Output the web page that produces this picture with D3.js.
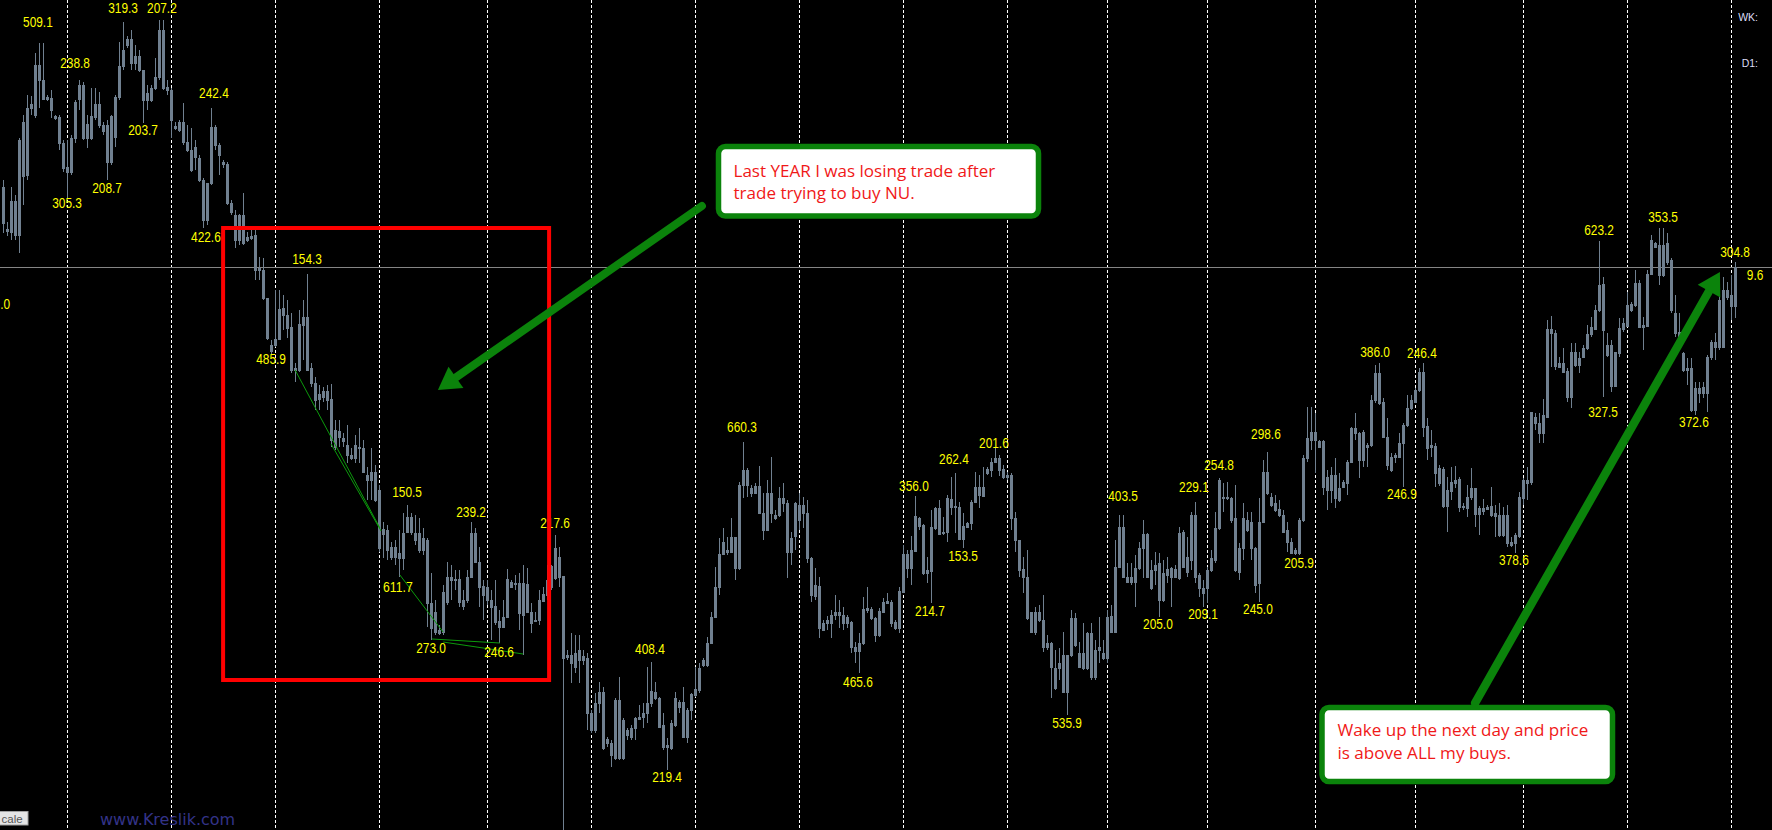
<!DOCTYPE html>
<html><head><meta charset="utf-8">
<script src="https://cdn.jsdelivr.net/npm/d3@7"></script>
<style>html,body{margin:0;padding:0;background:#000;overflow:hidden}svg{display:block}</style>
</head><body>
<svg id="chart" width="1772" height="830"></svg>
<script>
// ---- DATA (price in points) ----
const bodyTops = [
813,771,799,799,860,878,892,896,935,935,
920,903,902,884,883,857,833,862,898,915,
915,876,884,896,896,875,875,884,903,934,
950,961,961,944,944,930,907,912,923,970,
970,913,910,874,878,878,858,850,853,842,
820,817,873,873,855,838,836,797,785,785,
785,763,764,765,732,730,702,655,661,691,
692,685,673,632,676,683,683,632,617,606,
609,609,601,570,569,562,555,545,555,553,
552,525,528,528,510,471,470,453,453,447,
467,483,483,467,467,462,460,397,388,370,
408,423,423,421,421,400,423,467,467,438,
414,413,400,394,379,383,421,418,417,417,
417,416,388,380,400,406,420,434,452,443,
424,345,345,347,350,344,342,287,297,308,
308,261,257,300,300,280,270,272,282,283,
287,297,309,308,302,275,255,277,302,298,
298,290,306,311,332,340,357,383,413,446,
458,450,463,463,515,530,530,512,514,514,
487,507,507,485,502,502,497,462,497,495,
495,487,442,415,414,377,380,385,388,388,
385,383,378,353,357,391,392,391,382,389,
398,399,398,378,409,446,446,450,484,482,
475,430,473,492,492,468,502,501,494,493,
474,477,498,513,513,513,531,538,542,542,
531,525,525,482,460,431,423,388,388,388,
380,357,357,332,337,345,345,382,382,347,
347,367,367,350,353,347,383,384,433,473,
473,423,423,432,452,466,466,430,435,437,
427,431,432,431,467,468,443,485,485,425,
412,430,442,472,520,503,503,502,482,452,
482,480,478,452,478,528,528,503,497,491,
485,470,458,450,480,542,562,568,568,559,
559,523,525,525,512,518,538,572,572,567,
568,555,600,627,627,598,563,543,545,557,
575,592,600,610,628,628,574,555,554,532,
531,510,518,520,521,494,503,512,512,492,
492,493,494,487,485,485,485,458,465,503,
520,520,588,583,577,585,671,671,667,637,
637,629,648,648,642,652,666,673,690,715,
716,655,655,648,672,677,695,696,717,717,
675,726,760,757,755,755,757,740,687,668,
647,632,632,612,612,613,643,658,658,700,
710,710,705,733];
const bodyBottoms = [
777,769,768,765,765,824,825,892,885,920,
901,901,890,882,857,832,828,828,862,901,
862,862,862,883,875,869,838,838,863,903,
934,955,937,937,930,900,900,900,912,923,
912,910,880,872,870,858,850,830,843,820,
780,780,817,855,845,836,797,788,760,760,
757,760,762,730,730,702,662,649,655,661,
685,672,630,630,630,675,630,617,600,601,
603,600,560,553,563,559,545,542,542,552,
528,520,520,500,452,466,450,443,443,442,
442,468,468,460,450,450,397,372,368,367,
368,398,420,420,398,394,400,423,438,413,
405,400,393,378,373,373,383,413,416,387,
385,388,377,379,380,399,405,413,422,423,
342,343,337,333,340,340,287,270,270,297,
252,257,245,242,242,242,265,263,272,281,
283,287,297,302,273,253,253,252,275,293,
263,263,290,305,310,335,335,357,383,413,
446,448,448,432,432,515,515,507,507,487,
470,470,487,482,485,497,448,448,464,480,
487,442,405,404,372,370,377,377,385,385,
377,377,353,349,349,357,390,382,365,365,
388,397,377,372,372,408,432,432,449,474,
427,427,429,472,466,467,468,493,493,461,
461,473,477,498,505,504,527,530,538,530,
523,523,482,460,430,423,382,368,368,380,
353,353,333,312,332,308,308,345,355,333,
332,332,323,323,350,342,342,368,368,433,
423,418,418,418,432,452,423,412,430,400,
400,425,423,423,422,433,428,440,423,412,
407,412,430,440,472,502,502,480,430,428,
452,470,452,415,417,478,507,495,490,485,
468,458,447,447,447,480,542,560,560,553,
513,510,510,502,500,513,517,538,567,540,
540,553,555,600,597,563,535,530,543,543,
557,575,592,598,610,573,552,553,527,517,
494,494,509,517,493,493,492,503,486,486,
489,491,485,484,465,465,457,455,457,464,
502,517,518,577,567,567,583,667,634,633,
628,603,603,635,635,643,652,666,671,690,
670,645,614,614,647,671,674,690,695,673,
673,674,726,753,725,725,738,690,667,660,
630,630,590,590,607,607,607,643,653,653,
653,703,694,694];
const highs = [
820,778,813,805,862,885,905,904,947,957,
957,905,910,885,885,860,860,865,900,920,
918,885,912,912,908,878,880,885,905,958,
978,964,970,955,950,930,915,915,942,980,
980,920,912,878,880,897,875,872,860,845,
822,817,892,875,857,840,838,800,790,786,
807,768,770,770,743,742,702,660,710,710,
705,700,687,637,690,700,726,637,623,615,
613,615,616,580,580,567,575,552,565,572,
560,533,552,535,515,478,475,458,460,470,
487,495,487,485,482,472,462,427,400,375,
415,438,435,430,430,410,430,478,472,453,
420,420,410,420,390,400,431,420,425,427,
435,432,397,388,410,413,435,435,465,453,
424,350,367,365,365,350,347,290,307,318,
313,263,260,302,323,282,272,275,283,295,
297,333,338,318,303,287,262,280,308,300,
313,292,307,333,337,342,363,388,433,462,
472,463,482,463,518,558,532,515,517,534,
507,520,543,490,513,517,500,468,498,507,
503,500,443,432,423,380,384,390,405,400,
393,385,379,358,367,403,413,393,383,392,
402,407,400,380,413,455,450,464,504,483,
476,443,490,493,500,483,505,523,527,498,
487,478,500,528,525,533,533,542,552,545,
535,528,527,488,460,443,450,388,393,395,
405,365,358,350,352,368,345,390,387,358,
377,368,377,360,383,360,390,395,460,485,
485,437,437,445,458,480,467,440,448,447,
440,443,433,435,473,470,463,488,498,427,
420,433,450,488,522,517,518,503,515,457,
497,488,488,453,502,540,548,507,505,500,
490,478,462,452,482,545,593,593,587,560,
560,530,533,542,527,520,540,573,587,568,
570,557,605,635,637,602,582,547,547,567,
577,605,605,612,632,637,582,570,557,535,
533,523,533,534,523,497,515,532,512,494,
501,495,513,495,497,493,495,463,467,508,
522,533,588,587,587,601,680,684,670,643,
652,632,657,657,648,655,675,683,695,759,
723,667,660,648,682,682,708,698,730,720,
683,730,765,758,772,772,767,742,705,687,
648,642,642,618,618,618,645,660,667,710,
723,718,725,738];
const lows = [
767,764,760,760,747,795,820,885,882,892,
900,899,882,880,850,828,802,825,857,890,
860,852,860,880,872,865,820,835,853,900,
930,952,930,930,928,877,890,898,910,920,
910,905,862,870,868,855,848,828,830,818,
772,775,815,850,825,832,795,785,752,755,
755,758,760,720,720,700,660,645,653,660,
670,662,627,618,628,640,630,613,590,590,
598,590,553,550,553,553,537,540,537,537,
527,500,500,498,448,442,440,440,435,423,
430,467,465,455,447,445,373,360,365,365,
365,395,400,410,393,390,397,422,437,393,
380,395,360,375,357,372,382,412,410,370,
345,387,367,378,375,398,400,410,420,413,
170,340,317,327,317,335,270,267,267,287,
250,253,233,240,240,240,260,260,260,280,
272,277,293,300,272,250,230,250,273,287,
262,257,280,303,307,333,333,357,382,405,
445,445,447,420,430,502,503,503,506,487,
460,470,477,480,483,488,422,435,450,470,
472,437,398,400,362,369,370,362,380,372,
370,372,347,337,327,355,387,380,358,363,
387,396,373,370,367,407,422,415,448,470,
425,417,397,470,465,465,458,485,467,460,
452,472,470,497,492,503,525,523,537,524,
521,520,470,448,423,407,380,367,365,378,
348,350,302,310,320,307,285,343,353,332,
330,330,320,320,337,340,337,367,367,432,
423,417,415,393,430,422,422,410,415,383,
398,417,393,422,420,432,423,430,417,403,
393,397,428,437,470,488,500,477,428,420,
440,468,440,407,398,477,505,493,488,483,
467,448,446,445,445,478,538,550,527,552,
505,490,497,492,498,512,505,537,560,522,
533,533,553,597,595,562,530,528,537,542,
513,573,590,597,608,563,540,543,513,514,
492,468,500,512,488,490,483,500,473,465,
485,490,483,463,463,463,453,453,447,462,
495,500,515,570,557,557,582,633,630,632,
627,598,592,633,627,642,650,663,670,688,
603,643,608,613,643,668,673,688,693,672,
650,673,725,752,715,723,735,687,663,658,
628,615,588,585,597,602,588,640,640,650,
652,700,680,682];

// period separators (bar index)
const separatorBars = [16,42,68,94,121,147,173,199,225,251,276,301,328,353,380,406,432];

// swing labels: text, bar index, price level
const swingLabels = [
["509.1",8.6,978],["319.3",29.9,992],["207.2",39.6,992],["238.8",17.9,937],
["305.3",15.9,797],["208.7",25.9,812],["203.7",34.9,870],["242.4",52.6,907],
["422.6",50.6,763],["485.9",66.9,641],["154.3",75.9,741],["150.5",100.9,508],
["239.2",116.9,488],["217.6",137.9,477],["611.7",98.6,413],["273.0",106.9,352],
["246.6",123.9,348],["408.4",161.6,351],["219.4",165.9,223],["660.3",184.6,573],
["465.6",213.6,318],["356.0",227.6,514],["262.4",237.6,541],["201.6",247.6,557],
["214.7",231.6,389],["153.5",239.9,444],["535.9",265.9,277],["403.5",279.9,504],
["205.0",288.6,376],["229.1",297.6,513],["254.8",303.9,535],["209.1",299.9,386],
["245.0",313.6,391],["298.6",315.6,566],["205.9",323.9,437],["386.0",342.9,648],
["246.4",354.6,647],["246.9",349.6,506],["378.6",377.6,440],["623.2",398.9,770],
["327.5",399.9,588],["353.5",414.9,783],["372.6",422.6,578],["304.8",432.9,748],
["9.6",437.9,725],[".0",0.4,696]];

// thin green trend segments: [bar1, price1, bar2, price2]
const trendLines = [[72.9,630,94.1,472],[81.9,556,94.4,469],[99.1,425,109.9,368],[107.1,361,124.1,357],[109.9,358,129.9,346]];
// red highlight box: [barFrom, priceTop, barTo, priceBottom]
const highlightBox = [54.9,772,136.4,320];
// arrows: [tailBar, tailPrice, tipBar, tipPrice]
const arrows = [[174.6,794,108.6,610],[367.9,297,429.1,728]];
const calloutTexts = [["Last YEAR I was losing trade after","trade trying to buy NU."],["Wake up the next day and price","is above ALL my buys."]];

// ---- LAYOUT ----
const W = 1772, H = 830;
const svg = d3.select("#chart");
svg.append("rect").attr("width",W).attr("height",H).attr("fill","#000");
const x = d3.scaleLinear().domain([0,433]).range([3.5,1735.5]);
const y = d3.scaleLinear().domain([170,1000]).range([830,0]);
const candleColor = "#708090";

// separators
svg.append("g").selectAll("line").data(separatorBars).join("line")
  .attr("x1",d=>x(d)).attr("x2",d=>x(d)).attr("y1",0).attr("y2",H)
  .attr("stroke","#fff").attr("stroke-width",1).attr("stroke-dasharray","3,2");

// current price line (last bar top)
const lastPrice = bodyTops[bodyTops.length-1];
svg.append("line").attr("x1",0).attr("x2",W)
  .attr("y1",Math.round(y(lastPrice))+0.5).attr("y2",Math.round(y(lastPrice))+0.5)
  .attr("stroke","#858585").attr("stroke-width",1);

// candles
const idx = d3.range(bodyTops.length);
const cg = svg.append("g");
cg.selectAll("rect.w").data(idx).join("rect").attr("class","w")
  .attr("x",i=>x(i)-0.5).attr("width",1)
  .attr("y",i=>y(highs[i])).attr("height",i=>Math.max(1,y(lows[i])-y(highs[i])))
  .attr("fill",candleColor);
cg.selectAll("rect.b").data(idx).join("rect").attr("class","b")
  .attr("x",i=>x(i)-1.5).attr("width",3)
  .attr("y",i=>y(Math.max(bodyTops[i],bodyBottoms[i])))
  .attr("height",i=>Math.max(1,Math.abs(bodyTops[i]-bodyBottoms[i])+1))
  .attr("fill",candleColor);

// trend lines
svg.append("g").selectAll("line").data(trendLines).join("line")
  .attr("x1",d=>x(d[0])).attr("y1",d=>y(d[1])).attr("x2",d=>x(d[2])).attr("y2",d=>y(d[3]))
  .attr("stroke","#0c9a0c").attr("stroke-width",1);

// swing labels
const narrowW = s => s.split("").reduce((a,c)=>a+(c==="."?0.228:0.456),0);
const lfs = 14.5;
svg.append("g").selectAll("text").data(swingLabels).join("text")
  .attr("x",d=>x(d[1])).attr("y",d=>y(d[2])+5.2)
  .attr("text-anchor","middle")
  .attr("font-family","'Liberation Sans Narrow','Arial Narrow','Liberation Sans',Arial,sans-serif")
  .attr("font-size",lfs).attr("fill","#ffff00")
  .attr("textLength",d=>narrowW(d[0])*lfs).attr("lengthAdjust","spacingAndGlyphs")
  .text(d=>d[0]);

// red box
svg.append("rect")
  .attr("x",x(highlightBox[0])).attr("y",y(highlightBox[1]))
  .attr("width",x(highlightBox[2])-x(highlightBox[0])).attr("height",y(highlightBox[3])-y(highlightBox[1]))
  .attr("fill","none").attr("stroke","#ff0000").attr("stroke-width",4);

// arrows
const green = "#0b830b";
function drawArrow(a, sw, hl, hw){
  const x1=x(a[0]), y1=y(a[1]), x2=x(a[2]), y2=y(a[3]);
  const dx=x2-x1, dy=y2-y1, L=Math.hypot(dx,dy), ux=dx/L, uy=dy/L, px=-uy, py=ux;
  const bx=x2-ux*hl, by=y2-uy*hl;
  svg.append("line").attr("x1",x1).attr("y1",y1).attr("x2",bx+ux*3).attr("y2",by+uy*3)
    .attr("stroke",green).attr("stroke-width",sw).attr("stroke-linecap","round");
  svg.append("path").attr("d",`M${x2},${y2}L${bx+px*hw},${by+py*hw}L${bx-px*hw},${by-py*hw}Z`).attr("fill",green);
}
drawArrow(arrows[0],8,22,13);
drawArrow(arrows[1],8.5,22,13);

// callout boxes
const callouts = [
  {x:718.5,y:146.5,w:320,h:69.5,tx:733.5,ty:[176.7,199.3],target:262},
  {x:1322,y:707.5,w:290.5,h:74,tx:1337.5,ty:[736,759.3],target:251}
];
callouts.forEach((c,k)=>{
  svg.append("rect").attr("x",c.x).attr("y",c.y).attr("width",c.w).attr("height",c.h)
    .attr("rx",7).attr("fill","#fff").attr("stroke",green).attr("stroke-width",5.5);
  const tt = calloutTexts[k].map((s,j)=>svg.append("text").attr("x",c.tx).attr("y",c.ty[j])
    .attr("font-family","'Open Sans','Noto Sans',sans-serif").attr("font-size",16)
    .attr("fill","#f01818").text(s));
  const m = tt[0].node().getComputedTextLength();
  const fs = 16*c.target/m;
  tt.forEach(t=>t.attr("font-size",fs));
});

// watermark
svg.append("text").attr("x",100).attr("y",825).attr("font-family","'DejaVu Sans',Verdana,sans-serif")
  .attr("font-size",16).attr("fill","#333388").text("www.Kreslik.com");
// scale button
svg.append("rect").attr("x",-1).attr("y",811.5).attr("width",29).attr("height",13.5).attr("fill","#e4e4e4").attr("stroke","#a0a0a0");
svg.append("text").attr("x",1.5).attr("y",823).attr("font-family","'Liberation Sans',Arial,sans-serif")
  .attr("font-size",11.5).attr("fill","#555").text("cale");
// top-right labels
[["WK:",17],["D1:",63]].forEach(d=>svg.append("text").attr("x",1758).attr("y",d[1]+4)
  .attr("text-anchor","end").attr("font-family","'Liberation Sans',Arial,sans-serif")
  .attr("font-size",10.5).attr("fill","#dcdcf5").text(d[0]));
</script>
</body></html>
